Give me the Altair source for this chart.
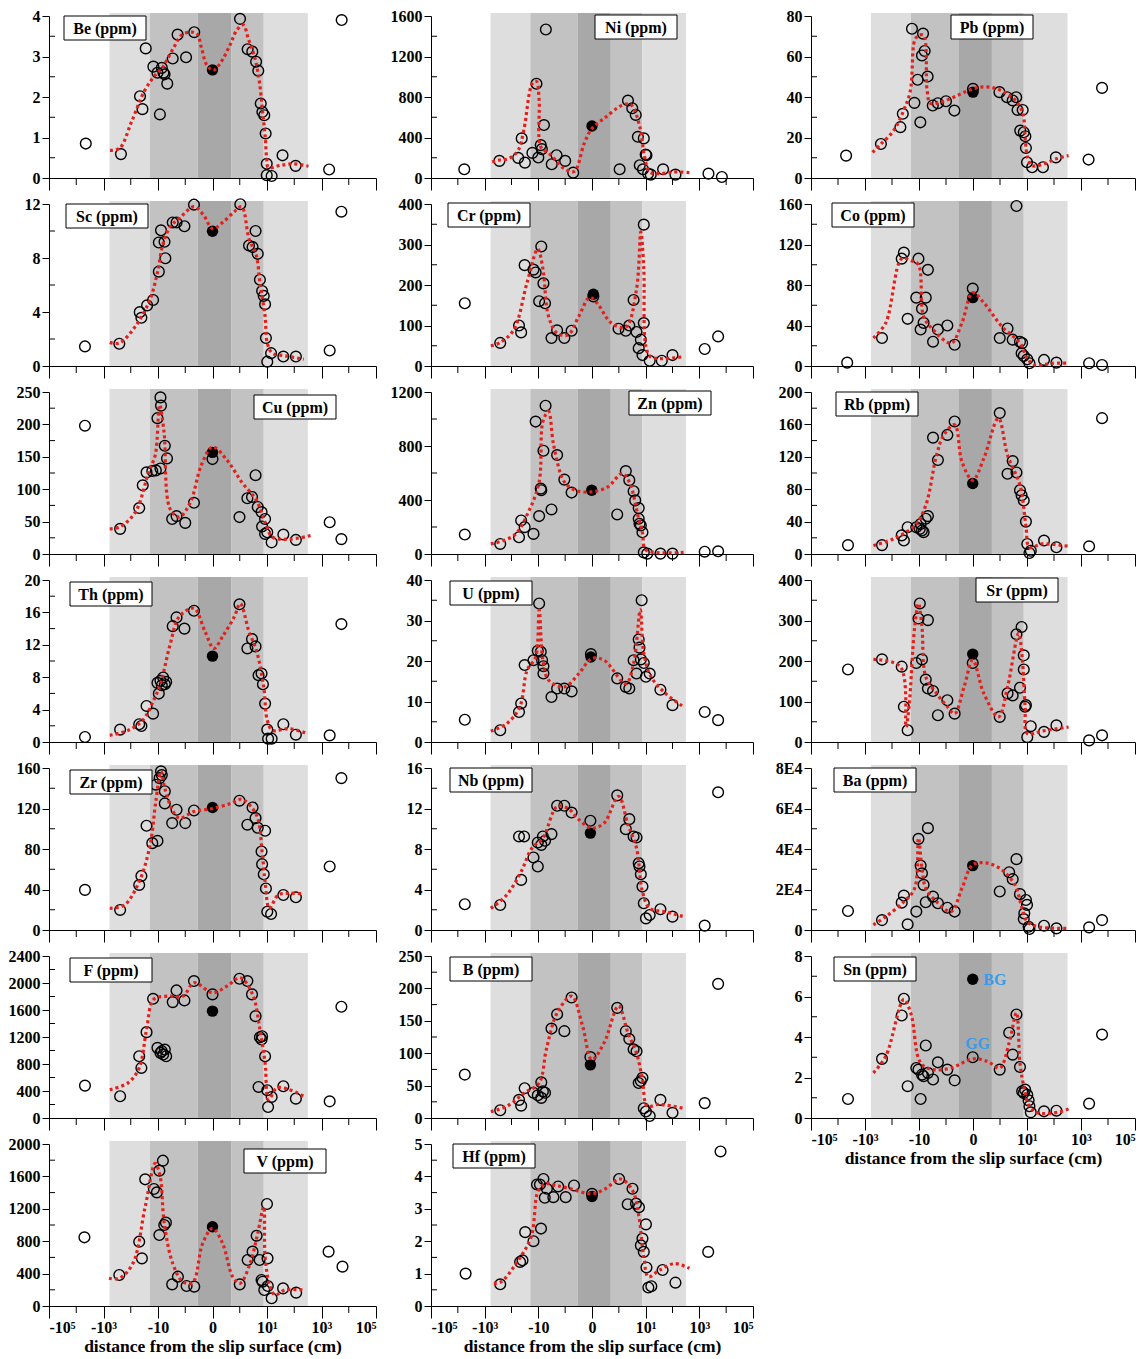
import json
import altair as alt
import pandas as pd

FONT = "Liberation Serif"
RED = "#e3201b"
H = 162
COL_W = [327, 322, 324]
COL_EXT = [41, 41, 44]
X_LABELS = ["-10⁵", "-10³", "-10", "0", "10¹", "10³", "10⁵"]
X_MAJOR = [0, 2, 4, 6, 8, 10, 12]
X_MINOR = [1, 3, 5, 7, 9, 11]
XTITLE = "distance from the slip surface (cm)"

band_lo = [2.22, 3.70, 5.46, 6.70, 7.88]
band_hi = [3.70, 5.46, 6.70, 7.88, 9.50]
band_color = ["#dedede", "#c2c2c2", "#a8a8a8", "#c2c2c2", "#dedede"]

# ---- data: (position on distance axis, concentration) ----
be_pts = [(1.35,0.85),(2.64,0.59),(3.34,2.02),(3.43,1.70),(3.55,3.20),(3.83,2.75),(3.98,2.60),(4.07,1.57),(4.14,2.72),(4.20,2.60),(4.24,2.56),(4.34,2.33),(4.54,2.95),(4.72,3.54),(5.03,2.98),(5.33,3.60),(7.01,3.93),(7.29,3.18),(7.46,3.12),(7.60,2.87),(7.68,2.65),(7.77,1.84),(7.83,1.63),(7.90,1.55),(7.95,1.10),(7.99,0.35),(7.99,0.07),(8.17,0.05),(8.57,0.56),(9.05,0.30),(10.28,0.21),(10.74,3.90)]
be_bg = (6.0, 2.67)
be_line = [(2.24,0.68),(2.6,0.74),(3.03,1.39),(3.52,2.17),(3.95,2.58),(4.14,2.7),(4.56,3.2),(4.87,3.53),(5.17,3.6),(5.42,3.57),(5.60,3.2),(5.79,2.79),(6.03,2.66),(6.28,2.83),(6.64,3.28),(6.89,3.65),(7.13,3.78),(7.31,3.45),(7.56,2.95),(7.72,2.38),(7.84,1.63),(7.93,1.06),(7.99,0.48),(8.05,0.26),(8.48,0.31),(8.97,0.35),(9.52,0.29)]

ni_pts = [(1.24,86),(2.55,169),(3.25,199),(3.38,391),(3.5,152),(3.78,248),(3.93,931),(4.0,202),(4.09,325),(4.13,285),(4.28,1467),(4.21,523),(4.5,136),(4.68,225),(5.0,169),(5.3,53),(7.03,86),(7.34,765),(7.5,689),(7.63,623),(7.71,407),(7.93,391),(7.78,126),(8.0,232),(8.03,225),(7.9,86),(8.09,43),(8.19,33),(8.65,86),(9.11,33),(10.34,43),(10.84,10)]
ni_bg = (6.0, 513)
ni_line = [(2.28,159),(2.53,176),(2.9,192),(3.25,275),(3.46,474),(3.78,937),(3.93,954),(4.03,772),(4.09,308),(4.4,242),(4.65,176),(4.96,93),(5.34,66),(5.71,341),(6.0,490),(6.46,590),(7.15,722),(7.46,722),(7.78,507),(7.96,209),(8.15,60),(8.53,43),(9.03,60),(9.63,53)]

pb_pts = [(1.30,11.05),(2.59,16.8),(3.31,25.1),(3.40,31.7),(3.74,73.7),(3.83,37.1),(3.95,48.5),(4.05,27.5),(4.11,60.5),(4.15,71.3),(4.21,62.7),(4.32,50.1),(4.51,35.8),(4.70,36.9),(5.0,37.9),(5.31,33.3),(6.0,44.0),(6.98,42.4),(7.26,39.9),(7.47,38.3),(7.60,39.9),(7.65,33.6),(7.84,33.6),(7.75,23.4),(7.88,22.6),(7.94,20.6),(7.96,14.8),(8.0,7.75),(8.19,5.3),(8.59,5.3),(9.07,10.2),(10.28,9.1),(10.78,44.5)]
pb_bg = (6.0, 42.4)
pb_line = [(2.28,12.7),(2.59,16.8),(3.06,23.4),(3.43,33.3),(3.68,43.2),(3.84,68),(3.99,70.4),(4.17,70.4),(4.3,43.2),(4.42,36.9),(4.79,37.4),(5.28,39.9),(5.78,42.9),(6.27,44.9),(6.77,44.5),(7.26,41.6),(7.63,37.4),(7.85,31.7),(7.94,18.5),(8.02,10.2),(8.19,6.1),(8.62,6.9),(9.05,9.4),(9.54,11.05)]

sc_pts = [(1.32,1.45),(2.58,1.65),(3.33,3.99),(3.39,3.57),(3.60,4.49),(3.82,4.89),(4.03,6.99),(4.27,7.98),(4.03,9.15),(4.24,9.2),(4.11,10.05),(4.54,10.63),(4.68,10.63),(4.97,10.35),(5.32,11.95),(7.02,11.98),(7.34,8.93),(7.47,8.81),(7.66,8.31),(7.58,10.0),(7.74,6.39),(7.82,5.56),(7.88,5.19),(7.93,4.57),(7.96,2.07),(8.01,0.32),(8.15,0.95),(8.6,0.7),(9.06,0.7),(10.3,1.15),(10.73,11.43)]
sc_bg = (6.0, 9.98)
sc_line = [(2.23,1.75),(2.58,1.7),(3.17,2.94),(3.71,4.94),(3.98,6.94),(4.17,8.93),(4.44,10.3),(4.78,10.93),(5.32,11.8),(5.67,11.18),(6.0,10.18),(6.4,10.68),(6.8,11.43),(7.07,11.8),(7.34,9.43),(7.61,8.18),(7.74,6.19),(7.93,3.69),(8.01,1.7),(8.2,0.95),(8.68,0.75),(9.35,0.5)]

cr_pts = [(1.26,155),(2.58,57),(3.28,100),(3.36,83),(3.49,249),(3.82,238),(3.90,231),(4.11,295),(4.19,204),(4.03,160),(4.25,155),(4.49,69),(4.70,88),(4.97,69),(5.24,87),(6.05,172),(6.99,92),(7.26,87),(7.39,100),(7.55,163),(7.66,84),(7.74,44),(7.82,65),(7.88,27),(7.93,106),(7.93,349),(8.15,13),(8.6,13),(9.0,27),(10.2,42),(10.7,73)]
cr_bg = (6.05, 177)
cr_line = [(2.23,50),(2.58,58),(3.09,90),(3.58,206),(3.98,289),(4.17,240),(4.38,123),(4.70,81),(5.11,77),(5.51,123),(5.91,169),(6.18,156),(6.72,106),(7.26,96),(7.66,190),(7.82,331),(7.93,240),(8.01,48),(8.2,22),(9.41,23)]

co_pts = [(1.34,3.3),(2.63,27.6),(3.36,106),(3.44,112),(3.58,46.6),(3.90,67.5),(3.98,106),(4.11,56.5),(4.06,36),(4.17,42.6),(4.25,67.5),(4.33,95),(4.52,24),(4.70,36),(5.05,40),(5.32,21),(5.99,76.5),(6.99,27.6),(7.28,37),(7.47,26),(7.74,24),(7.82,22.6),(7.8,12.6),(7.88,10),(8.01,6.6),(8.09,2.7),(8.63,6),(9.09,3.3),(10.3,2.7),(10.78,1.0),(7.61,158)]
co_bg = (5.99, 67.5)
co_line = [(2.31,27.6),(2.77,42.6),(3.36,106),(3.71,104),(3.98,100),(4.17,49),(4.52,36),(5.19,22.6),(5.59,42.6),(5.99,72.5),(6.40,62.5),(7.07,39),(7.74,22.6),(8.01,7.6),(8.28,1),(8.95,2.7),(9.54,2.7)]

cu_pts = [(1.32,198),(2.61,38.8),(3.31,70.9),(3.44,106),(3.58,126),(3.79,128),(3.92,129),(4.09,132),(3.98,209.6),(4.11,229),(4.09,241.7),(4.25,167),(4.33,147.5),(4.52,54),(4.68,58.5),(5.0,48),(5.32,79),(6.0,146.5),(6.99,57),(7.28,86),(7.45,88),(7.58,121.6),(7.66,72.5),(7.8,64.7),(7.82,42.4),(7.93,54),(7.93,31),(8.01,33.6),(8.17,18),(8.6,30),(9.06,21.7),(10.3,49),(10.73,23)]
cu_bg = (6.0, 156.8)
cu_line = [(2.23,38.8),(2.61,42),(3.17,64.7),(3.66,126.8),(3.90,152.7),(4.06,230),(4.22,189),(4.44,70),(4.78,57),(5.19,80),(5.59,137),(6.0,165),(6.53,145),(7.07,111),(7.61,83),(7.93,49),(8.2,26),(8.82,23),(9.62,28.5)]

zn_pts = [(1.26,144),(2.58,74.5),(3.28,124),(3.36,248),(3.49,199),(3.82,149),(3.90,981),(4.03,281),(4.11,472),(4.09,484),(4.19,765),(4.27,1098),(4.49,330),(4.70,733),(4.97,551),(5.24,455),(6.94,293),(7.26,614),(7.39,547),(7.55,465),(7.61,397),(7.74,340),(7.74,261),(7.82,211),(7.88,161),(7.77,224),(7.93,12),(8.06,3),(8.55,3),(9.0,3),(10.2,17),(10.7,20)]
zn_bg = (5.99, 472)
zn_line = [(2.23,74.5),(3.09,137),(3.63,311),(4.03,534),(4.17,981),(4.38,1056),(4.57,807),(4.97,534),(5.38,472),(5.99,460),(6.59,497),(7.12,596),(7.39,534),(7.74,261),(7.88,161),(7.98,37),(8.33,12),(9.41,12)]

rb_pts = [(1.37,11),(2.63,11),(3.36,23),(3.44,16.6),(3.58,33),(3.90,33),(4.03,31),(4.11,29),(4.17,27),(4.06,37),(4.25,43.5),(4.33,46.8),(4.52,143.7),(4.70,116),(5.05,147),(5.32,163.6),(6.99,174),(7.28,99),(7.47,114.7),(7.61,100.6),(7.74,78.7),(7.8,72.5),(7.88,66),(7.96,40),(8.01,12.4),(8.09,1.2),(8.14,4),(8.63,16.6),(9.09,8.3),(10.3,9.5),(10.78,167.7)]
rb_bg = (5.99, 87)
rb_line = [(2.31,10.4),(3.04,18.6),(3.84,35),(4.25,60),(4.65,122),(4.92,147),(5.32,159.5),(5.59,114),(5.99,91),(6.40,118),(6.94,167.7),(7.28,122),(7.74,85),(7.96,35),(8.09,8.3),(8.55,12.4),(9.54,9.5)]

th_pts = [(1.32,0.62),(2.61,1.53),(3.31,2.19),(3.39,1.98),(3.58,4.45),(3.82,3.5),(4.03,5.98),(4.09,7.55),(4.19,7.96),(4.14,7.01),(4.25,7.13),(4.30,7.42),(3.98,7.3),(4.54,14.3),(4.68,15.38),(4.97,14.0),(5.32,16.2),(6.99,17.0),(7.28,11.55),(7.45,12.7),(7.58,11.8),(7.69,8.25),(7.8,8.45),(7.85,7.13),(7.93,4.74),(8.01,1.53),(8.04,0.41),(8.17,0.41),(8.6,2.19),(9.06,0.9),(10.3,0.82),(10.73,14.56)]
th_bg = (6.0, 10.6)
th_line = [(2.23,0.82),(2.9,1.44),(3.44,2.68),(3.84,5.15),(4.11,7.42),(4.44,11.96),(4.78,15.46),(5.32,16.5),(5.73,13.6),(6.05,11.55),(6.4,13.2),(6.8,15.46),(7.02,17.1),(7.34,13.6),(7.61,11.34),(7.88,6.8),(8.01,2.68),(8.2,1.44),(8.82,1.65),(9.49,1.03)]

u_pts = [(1.26,5.5),(2.58,2.9),(3.28,7.4),(3.36,9.5),(3.49,19.0),(3.82,20.2),(3.98,22.5),(4.09,22.3),(4.03,34.2),(4.14,20.2),(4.19,18.7),(4.19,16.9),(4.49,11.1),(4.70,13.2),(4.97,13.2),(5.24,12.5),(5.96,21.7),(6.94,15.7),(7.26,13.6),(7.39,13.2),(7.55,20.2),(7.66,16.9),(7.74,25.3),(7.77,23.3),(7.85,35.0),(7.82,20.4),(7.93,19.5),(8.01,16.1),(8.15,16.9),(8.55,12.9),(9.0,9.1),(10.2,7.4),(10.7,5.4)]
u_bg = (5.96, 21.0)
u_line = [(2.23,2.7),(2.82,4.5),(3.31,8.7),(3.58,17.7),(3.90,21.0),(4.03,32.6),(4.17,20.2),(4.38,15.3),(4.97,13.6),(5.51,16.9),(5.99,20.6),(6.45,20.2),(7.26,14.4),(7.55,19.4),(7.8,32.6),(7.93,21.9),(8.2,16.1),(8.74,12.0),(9.41,8.7)]

sr_pts = [(1.37,179),(2.63,204),(3.36,186),(3.44,87),(3.58,29),(3.90,195),(4.03,342),(3.98,305),(4.11,204),(4.25,154),(4.33,301),(4.33,132),(4.52,126),(4.70,66),(5.05,103),(5.32,70),(5.99,195),(6.99,62),(7.28,120),(7.47,115),(7.61,266),(7.74,134),(7.8,284),(7.88,214),(7.88,179),(7.93,87),(7.96,91),(8.01,12),(8.14,39),(8.63,25),(9.09,41),(10.3,4),(10.78,16.5)]
sr_bg = (5.99, 217)
sr_line = [(2.31,204),(3.31,186),(3.52,37),(3.63,87),(3.84,284),(3.98,342),(4.11,284),(4.25,161),(4.65,120),(5.05,87),(5.32,70),(5.67,136),(5.99,202),(6.40,120),(6.94,62),(7.28,136),(7.69,268),(7.82,210),(7.93,87),(8.01,21),(8.55,27),(9.54,37)]

zr_pts = [(1.32,39.6),(2.61,19.8),(3.31,44.5),(3.39,53.4),(3.58,103),(3.79,85.8),(3.98,88),(3.92,143.5),(4.06,150),(4.11,156.7),(4.14,153),(4.25,137),(4.25,125),(4.52,105.6),(4.68,118.8),(5.0,105.6),(5.32,118),(6.99,127.7),(7.28,104),(7.47,121),(7.58,110.5),(7.66,101),(7.93,98),(7.8,77.5),(7.82,65),(7.88,55),(7.96,41),(8.01,18),(8.15,15.8),(8.6,34.6),(9.06,32.3),(10.3,62.7),(10.73,150)]
zr_bg = (6.0, 121)
zr_line = [(2.23,21.4),(2.77,24.7),(3.31,47.8),(3.71,84),(3.92,127),(4.11,156.7),(4.25,140),(4.52,118.8),(4.78,110.5),(5.32,117),(6.0,120),(6.67,125),(7.07,129),(7.61,113.8),(7.82,77.5),(7.93,47.8),(8.09,21.4),(8.41,34.6),(8.82,36.3),(9.35,35.6)]

nb_pts = [(1.26,2.54),(2.58,2.47),(3.28,9.24),(3.47,9.24),(3.36,4.95),(3.82,7.16),(3.98,6.27),(3.98,8.64),(4.11,8.41),(4.17,9.24),(4.25,8.81),(4.49,9.47),(4.70,12.27),(4.97,12.27),(5.24,11.6),(5.94,10.79),(6.94,13.3),(7.26,9.96),(7.39,10.95),(7.55,9.24),(7.66,9.14),(7.74,6.6),(7.77,6.27),(7.82,5.51),(7.88,4.29),(7.93,2.64),(8.01,1.15),(8.15,1.48),(8.55,2.05),(9.0,1.32),(10.2,0.43),(10.7,13.6)]
nb_bg = (5.94, 9.57)
nb_line = [(2.23,2.14),(2.82,3.46),(3.36,5.77),(3.76,8.08),(4.17,9.07),(4.70,12.2),(5.11,12.0),(5.51,10.9),(5.99,10.06),(6.45,10.56),(6.99,13.2),(7.34,10.4),(7.66,8.08),(7.88,3.79),(8.15,2.14),(8.74,1.8),(9.41,1.32)]

ba_pts = [(1.37,9400),(2.63,4900),(3.36,13500),(3.44,17000),(3.58,2800),(3.90,9100),(3.98,45000),(4.06,31800),(4.11,28000),(4.17,22300),(4.25,13700),(4.33,50300),(4.52,16500),(4.70,13200),(5.05,11000),(5.32,9100),(6.99,19000),(7.34,28500),(7.47,25100),(7.61,35000),(7.74,17700),(7.88,5400),(7.9,8200),(7.96,14800),(8.0,12400),(8.06,1600),(8.09,500),(8.63,2100),(9.09,800),(10.3,1300),(10.78,4900)]
ba_bg = (5.99, 31800)
ba_line = [(2.31,2500),(2.77,6600),(3.44,14000),(3.84,20600),(3.98,45400),(4.11,30500),(4.25,20600),(4.65,14000),(5.19,9100),(5.59,20600),(5.99,32200),(6.53,33000),(7.07,29700),(7.55,22300),(7.82,10700),(8.01,4100),(8.41,1600),(9.54,800)]

f_pts = [(1.32,480),(2.61,322),(3.31,915),(3.39,742),(3.58,1272),(3.82,1766),(3.98,1039),(4.09,965),(4.19,940),(4.14,990),(4.25,1014),(4.30,915),(4.54,1717),(4.68,1890),(4.97,1742),(5.32,2029),(6.0,1831),(6.99,2063),(7.28,2029),(7.45,1831),(7.58,1509),(7.74,1197),(7.8,1163),(7.82,1212),(7.93,915),(7.69,460),(8.01,411),(8.04,163),(8.17,312),(8.6,470),(9.06,287),(10.3,247),(10.73,1648)]
f_bg = (6.0, 1583)
f_line = [(2.23,420),(2.9,520),(3.31,742),(3.58,1311),(3.84,1757),(4.38,1806),(4.92,1806),(5.32,2004),(6.0,1855),(6.53,1954),(7.02,2078),(7.47,1831),(7.74,1311),(7.93,816),(8.06,272),(8.36,445),(8.82,420),(9.35,322)]

b_pts = [(1.26,67),(2.58,12),(3.28,28),(3.36,19),(3.49,46),(3.82,39),(3.98,35),(4.11,31),(4.17,41),(4.25,39),(4.11,55),(4.49,138),(4.70,160),(4.97,134),(5.24,186),(5.94,94),(6.94,170),(7.26,134),(7.39,122),(7.55,106),(7.66,103),(7.74,54),(7.82,57),(7.88,62),(7.93,15),(8.01,10),(8.15,3),(8.55,28),(9.0,8),(10.2,23),(10.7,207)]
b_bg = (5.94, 82)
b_line = [(2.23,10),(2.82,18),(3.49,39),(4.03,54),(4.3,106),(4.70,162),(5.24,188),(5.65,142),(5.99,90),(6.45,116),(6.99,173),(7.34,131),(7.66,100),(7.88,59),(8.06,18),(8.47,21),(9.41,15)]

sn_pts = [(1.37,0.94),(2.63,2.92),(3.36,5.06),(3.44,5.89),(3.58,1.57),(3.90,2.47),(3.98,2.39),(4.06,0.94),(4.11,2.14),(4.17,2.06),(4.25,3.58),(4.33,2.23),(4.52,1.90),(4.70,2.75),(5.05,2.39),(5.32,1.86),(5.99,3.0),(6.99,2.39),(7.34,4.21),(7.47,3.13),(7.61,5.11),(7.74,2.52),(7.82,1.32),(7.88,1.24),(7.93,1.40),(8.01,1.15),(8.06,0.87),(8.09,0.58),(8.14,0.28),(8.63,0.33),(9.09,0.36),(10.3,0.71),(10.78,4.12)]
sn_bg = (5.99, 6.85)
sn_line = [(2.31,2.23),(2.77,3.05),(3.44,5.86),(3.71,5.11),(4.06,2.72),(4.52,2.39),(5.19,2.47),(5.99,2.92),(6.53,2.80),(6.99,2.47),(7.34,3.71),(7.61,5.2),(7.74,2.72),(7.88,1.57),(8.09,0.58),(8.41,0.25),(9.2,0.3),(9.54,0.45)]
sn_notes = ["BG", "GG"]
sn_note_pos = [(6.38, 6.83), (6.17, 3.67)]

v_pts = [(1.30,848),(2.58,383),(3.31,794),(3.41,588),(3.53,1564),(3.85,1444),(3.96,1403),(4.05,1671),(4.18,1794),(4.05,876),(4.29,1029),(4.23,1000),(4.52,267),(4.73,362),(5.05,247),(5.33,239),(7.0,267),(7.29,568),(7.47,671),(7.62,868),(7.73,568),(7.80,321),(7.84,300),(8.0,1259),(8.02,588),(7.9,198),(8.03,247),(8.17,95),(8.59,218),(9.07,165),(10.26,671),(10.77,486)]
v_bg = (6.0, 979)
v_line = [(2.2,342),(2.58,342),(3.08,527),(3.53,1226),(3.90,1761),(4.08,1597),(4.23,1020),(4.54,527),(4.91,300),(5.27,288),(5.64,774),(6.0,959),(6.37,774),(6.74,362),(7.01,280),(7.38,527),(7.66,897),(7.88,1226),(7.93,609),(8.11,239),(8.3,136),(8.66,198),(9.30,198)]

hf_pts = [(1.29,1.0),(2.58,0.67),(3.32,1.36),(3.41,1.41),(3.51,2.28),(3.82,2.0),(3.95,3.75),(4.06,3.75),(4.10,2.39),(4.19,3.92),(4.24,3.34),(4.32,3.62),(4.56,3.36),(4.74,3.69),(5.02,3.36),(5.33,3.72),(6.0,3.46),(7.01,3.92),(7.33,3.14),(7.51,3.62),(7.64,3.16),(7.75,3.05),(7.82,1.87),(7.88,2.08),(7.93,1.67),(8.01,2.52),(8.03,1.19),(8.10,0.57),(8.21,0.61),(8.63,1.11),(9.11,0.72),(10.33,1.67),(10.79,4.77)]
hf_bg = (6.0, 3.38)
hf_line = [(2.34,0.70),(2.62,0.75),(3.17,1.31),(3.73,2.13),(4.0,3.57),(4.28,3.77),(4.65,3.72),(5.2,3.62),(6.0,3.46),(6.5,3.62),(7.05,3.92),(7.51,3.57),(7.75,2.75),(7.93,1.52),(8.1,0.9),(8.52,1.11),(9.08,1.31),(9.63,1.16)]

BA_LABEL = "datum.value == 0 ? '0' : (datum.value / 10000) + 'E4'"

# name, points, bg, line, ymax, major step, column, label centre (px in plot), bottom axis, label expr
PANELS = [
    ["Be (ppm)", be_pts, be_bg, be_line, 4, 1, 0, (56, 12), False, None],
    ["Sc (ppm)", sc_pts, sc_bg, sc_line, 12, 4, 0, (58, 12), False, None],
    ["Cu (ppm)", cu_pts, cu_bg, cu_line, 250, 50, 0, (246, 15), False, None],
    ["Th (ppm)", th_pts, th_bg, th_line, 20, 4, 0, (62, 14), False, None],
    ["Zr (ppm)", zr_pts, zr_bg, zr_line, 160, 40, 0, (62, 14), False, None],
    ["F (ppm)", f_pts, f_bg, f_line, 2400, 400, 0, (62, 14), False, None],
    ["V (ppm)", v_pts, v_bg, v_line, 2000, 400, 0, (236, 17), True, None],
    ["Ni (ppm)", ni_pts, ni_bg, ni_line, 1600, 400, 1, (205, 11), False, None],
    ["Cr (ppm)", cr_pts, cr_bg, cr_line, 400, 100, 1, (58, 11), False, None],
    ["Zn (ppm)", zn_pts, zn_bg, zn_line, 1200, 400, 1, (239, 11), False, None],
    ["U (ppm)", u_pts, u_bg, u_line, 40, 10, 1, (60, 13), False, None],
    ["Nb (ppm)", nb_pts, nb_bg, nb_line, 16, 4, 1, (60, 12), False, None],
    ["B (ppm)", b_pts, b_bg, b_line, 250, 50, 1, (60, 13), False, None],
    ["Hf (ppm)", hf_pts, hf_bg, hf_line, 5, 1, 1, (63, 12), True, None],
    ["Pb (ppm)", pb_pts, pb_bg, pb_line, 80, 20, 2, (181, 11), False, None],
    ["Co (ppm)", co_pts, co_bg, co_line, 160, 40, 2, (62, 11), False, None],
    ["Rb (ppm)", rb_pts, rb_bg, rb_line, 200, 40, 2, (66, 12), False, None],
    ["Sr (ppm)", sr_pts, sr_bg, sr_line, 400, 100, 2, (206, 10), False, None],
    ["Ba (ppm)", ba_pts, ba_bg, ba_line, 80000, 20000, 2, (64, 12), False, BA_LABEL],
    ["Sn (ppm)", sn_pts, sn_bg, sn_line, 8, 2, 2, (64, 13), True, None],
]

band_df = pd.DataFrame({"lo": band_lo, "hi": band_hi, "c": band_color})
xlab_expr = json.dumps(X_LABELS) + "[round(datum.value / 2)]"


def panel(label, pts, bg, line, ymax, step, col, lpos, bottom, ylab):
    W = COL_W[col]
    xs = alt.Scale(domain=[0, 12], nice=False, zero=False)
    ys = alt.Scale(domain=[0, ymax], nice=False, zero=True)
    major = [step * i for i in range(int(round(ymax / step)) + 1)]
    minor = [step * (i + 0.5) for i in range(int(round(ymax / step)))]
    xkw = dict(values=X_MAJOR, tickSize=12, tickColor="black", tickWidth=1,
               domainColor="black", domainWidth=1, grid=False, labels=bottom,
               labelExpr=xlab_expr, labelFont=FONT, labelFontSize=16,
               labelFontWeight="bold", labelColor="black", labelPadding=1,
               labelAngle=0, titleFont=FONT, titleFontSize=17.5,
               titleFontWeight="bold", titleColor="black", titlePadding=2)
    xkw["title"] = XTITLE if bottom else None
    xaxis = alt.Axis(**xkw)
    ykw = dict(values=major, tickSize=7, tickColor="black", tickWidth=1,
               domainColor="black", domainWidth=1, grid=False, title=None,
               labelFont=FONT, labelFontSize=16, labelFontWeight="bold",
               labelColor="black", labelPadding=2, minExtent=COL_EXT[col])
    if ylab:
        ykw["labelExpr"] = ylab
    else:
        ykw["format"] = "d"
    yaxis = alt.Axis(**ykw)

    X = lambda f: alt.X(f, scale=xs, axis=xaxis)
    Y = lambda f: alt.Y(f, scale=ys, axis=yaxis)

    bands = alt.Chart(band_df).mark_rect().encode(
        x=X("lo:Q"), x2="hi:Q", y=alt.value(-3), y2=alt.value(H),
        color=alt.Color("c:N", scale=None))
    xminor = alt.Chart(pd.DataFrame({"u": X_MINOR})).mark_rule(
        color="black", strokeWidth=1).encode(
        x=X("u:Q"), y=alt.value(H), y2=alt.value(H + 7))
    yminor = alt.Chart(pd.DataFrame({"v": minor})).mark_rule(
        color="black", strokeWidth=1).encode(
        y=Y("v:Q"), x=alt.value(0), x2=alt.value(6))
    ldf = pd.DataFrame(line, columns=["u", "v"])
    ldf["i"] = range(len(ldf))
    red = alt.Chart(ldf).mark_line(
        color=RED, strokeWidth=3.2, strokeDash=[3, 3],
        interpolate="catmull-rom").encode(x=X("u:Q"), y=Y("v:Q"), order="i:Q")
    pdf = pd.DataFrame(pts, columns=["u", "v"])
    circles = alt.Chart(pdf).mark_point(
        shape="circle", filled=False, size=115, strokeWidth=1.4,
        color="black", opacity=1).encode(x=X("u:Q"), y=Y("v:Q"))
    bdf = pd.DataFrame([bg], columns=["u", "v"])
    filled = alt.Chart(bdf).mark_point(
        shape="circle", filled=True, size=130, color="black",
        opacity=1).encode(x=X("u:Q"), y=Y("v:Q"))
    tdf = pd.DataFrame({"t": [label]})
    cx, cy = lpos
    box = alt.Chart(tdf).mark_rect(fill="white", stroke="black", strokeWidth=1).encode(
        x=alt.value(cx - 41), x2=alt.value(cx + 41),
        y=alt.value(cy - 12), y2=alt.value(cy + 12))
    txt = alt.Chart(tdf).mark_text(
        font=FONT, fontSize=16, fontWeight="bold", color="black").encode(
        x=alt.value(cx), y=alt.value(cy + 1), text="t:N")
    layers = [bands, xminor, yminor, circles, filled, red, box, txt]
    if label.startswith("Sn"):
        for k, al in enumerate(["left", "center"]):
            ndf = pd.DataFrame({"t": [sn_notes[k]], "u": [sn_note_pos[k][0]],
                                "v": [sn_note_pos[k][1]]})
            layers.append(alt.Chart(ndf).mark_text(
                font=FONT, fontSize=16, fontWeight="bold", color="#3a9be6",
                align=al).encode(x=X("u:Q"), y=Y("v:Q"), text="t:N"))
    return alt.layer(*layers).properties(width=W, height=H)


cols = [[], [], []]
for p in PANELS:
    cols[p[6]].append(panel(*p))

chart = alt.hconcat(
    *[alt.vconcat(*c, spacing=5) for c in cols], spacing=13
).properties(
    padding={"left": 0, "top": 0, "right": 0, "bottom": 0},
    background="white",
).configure_view(stroke=None)

chart.save("out.html", embed_options={"renderer": "svg", "actions": False})
